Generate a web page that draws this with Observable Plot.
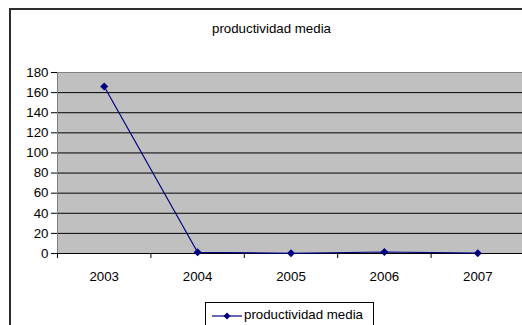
<!DOCTYPE html>
<html>
<head>
<meta charset="utf-8">
<script src="https://cdn.jsdelivr.net/npm/d3@7"></script>
<script src="https://cdn.jsdelivr.net/npm/@observablehq/plot@0.6"></script>
<style>
  html, body { margin: 0; padding: 0; background: #fff; overflow: hidden; }
  #page { position: relative; width: 522px; height: 325px; overflow: hidden; background: #fff;
          font-family: "Liberation Sans", Arial, sans-serif; }
  #border { position: absolute; left: 9px; top: 8px; width: 600px; height: 400px;
            border-left: 2px solid #2e2e2e; border-top: 2px solid #2e2e2e; box-sizing: border-box; }
  #title { position: absolute; left: 0; width: 543px; top: 21px; text-align: center;
           font-size: 13.3px; color: #000; }
  #chart { position: absolute; left: 0; top: 0; width: 524px; }
  #chart svg { display: block; }
  #legend { position: absolute; left: 205px; top: 302px; width: 169px; height: 40px;
            border: 1px solid #000; box-sizing: border-box; font-size: 13.3px; background: #fff; }
  #legend svg { position: absolute; left: 5px; top: 6px; }
  #legend span { position: absolute; left: 38px; top: 4px; }
</style>
</head>
<body>
<div id="page">
  <div id="border"></div>
  <div id="title">productividad media</div>
  <div id="chart"></div>
  <div id="legend">
    <svg width="32" height="14"><line x1="1" x2="31" y1="7" y2="7" stroke="#000080" stroke-width="1.2"/><path d="M16,3.5L19.5,7L16,10.5L12.5,7Z" fill="#000080"/></svg>
    <span>productividad media</span>
  </div>
</div>
<script>
// Annual mean productivity
const years = [2003, 2004, 2005, 2006, 2007];
const productividad = [166, 1.2, 0.2, 1.5, 0.3];
const yTicks = [0, 20, 40, 60, 80, 100, 120, 140, 160, 180];

const data = years.map((year, i) => ({year, value: productividad[i]}));
// category boundaries between the years
const bounds = [2002.5, 2003.5, 2004.5, 2005.5, 2006.5];

const chart = Plot.plot({
  width: 524,
  height: 325,
  marginLeft: 57,
  marginRight: 0,
  marginTop: 72,
  marginBottom: 72,
  style: {fontFamily: "Liberation Sans, Arial, sans-serif", fontSize: "13.3px", background: "transparent", color: "#000", maxWidth: "none"},
  x: {domain: [2002.5, 2007.5]},
  y: {domain: [0, 180]},
  marks: [
    Plot.frame({fill: "#c0c0c0", stroke: null}),
    Plot.ruleY(yTicks.filter(d => d > 0 && d < 180), {stroke: "#000", strokeWidth: 1}),
    Plot.ruleY([180], {stroke: "#808080"}),
    Plot.ruleX([2002.5], {stroke: "#808080"}),
    Plot.ruleY([0], {stroke: "#000"}),
    Plot.axisY({ticks: yTicks, tickSize: 6, tickPadding: 3, label: null, stroke: "#000"}),
    Plot.axisX({ticks: bounds, tickSize: 5, tickFormat: () => "", label: null, stroke: "#000"}),
    Plot.axisX({ticks: years, tickSize: 0, tickPadding: 18, tickFormat: d => String(d), label: null}),
    Plot.line(data, {x: "year", y: "value", stroke: "#000080", strokeWidth: 1.2}),
    Plot.dot(data, {x: "year", y: "value", symbol: "diamond2", r: 3.6, fill: "#000080", stroke: null})
  ]
});
document.getElementById("chart").appendChild(chart);
</script>
</body>
</html>
